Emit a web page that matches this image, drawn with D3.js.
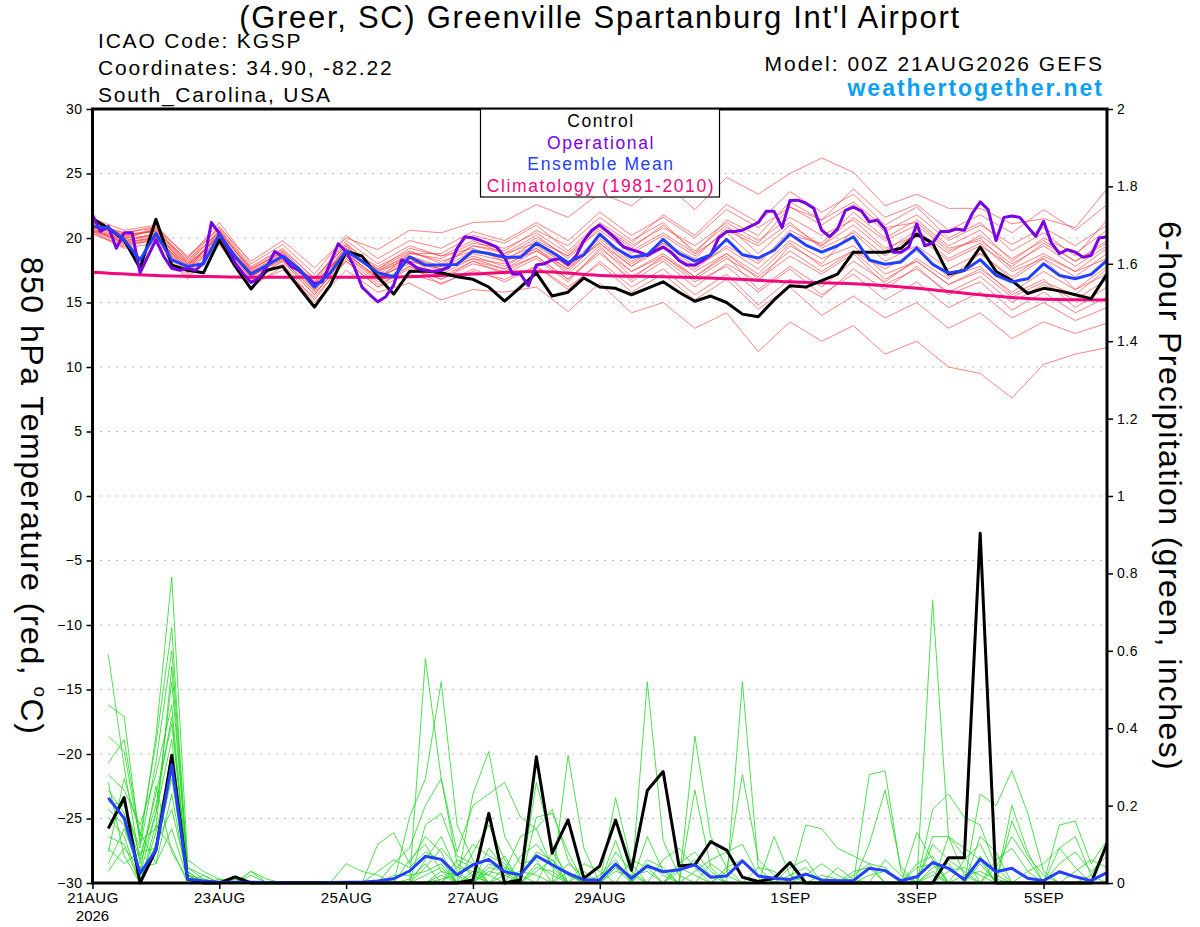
<!DOCTYPE html>
<html>
<head>
<meta charset="utf-8">
<script src="https://cdn.jsdelivr.net/npm/d3@7"></script>
<style>
body { margin: 0; background: #fff; }
svg { display: block; }
text { font-family: "Liberation Sans", Arial, sans-serif; }
</style>
</head>
<body>
<div id="chart"></div>
<script>
// ---- data ----
// time axis: 00Z 21AUG2026 .. 00Z 06SEP2026
const runStart = Date.UTC(2026, 7, 21);
const tickDates = [Date.UTC(2026,7,21), Date.UTC(2026,7,23), Date.UTC(2026,7,25), Date.UTC(2026,7,27),
                   Date.UTC(2026,7,29), Date.UTC(2026,8,1), Date.UTC(2026,8,3), Date.UTC(2026,8,5)];
const tickLabels = ["21AUG", "23AUG", "25AUG", "27AUG", "29AUG", "1SEP", "3SEP", "5SEP"];
const tempTicks = [-30, -25, -20, -15, -10, -5, 0, 5, 10, 15, 20, 25, 30];
const precipTicks = [0, 0.2, 0.4, 0.6, 0.8, 1, 1.2, 1.4, 1.6, 1.8, 2];

// 850 hPa temperature, control run, every 6 h from 00Z
const controlTemp = [21.5,20.75,19.85,17.65,21.45,17.9,17.5,17.3,19.85,17.8,16.05,17.5,17.8,16.2,14.65,16.35,
  18.95,18.6,17.0,15.65,17.4,17.45,17.3,17.0,16.8,16.2,15.1,16.2,17.3,15.5,15.8,16.9,
  16.2,16.1,15.6,16.1,16.6,15.8,15.1,15.5,15.0,14.1,13.9,15.2,16.3,16.2,16.7,17.2,
  18.9,18.9,18.9,19.2,20.3,19.6,17.2,17.5,19.3,17.4,16.7,15.7,16.1,15.9,15.6,15.3,17.2];

// operational run, every 3 h
const operTemp = [21.8,20.5,20.9,19.2,20.4,20.4,17.3,18.6,19.85,18.55,17.65,17.5,17.65,17.5,18.05,21.2,
  20.35,19.3,18.05,17.25,16.55,16.9,17.8,18.95,18.55,17.8,17.5,17.0,16.45,16.6,18.05,19.55,
  18.95,17.8,16.2,15.6,15.05,15.45,16.35,18.3,18.1,17.65,17.5,17.4,17.5,17.75,19.2,20.1,
  20.0,19.8,19.56,19.3,18.5,17.2,17.2,16.3,17.9,18.0,18.3,18.4,17.95,18.6,19.8,20.6,
  21.0,20.5,19.95,19.3,19.1,18.9,18.65,19.0,19.3,18.9,18.26,17.9,17.9,18.26,18.7,20.0,
  20.5,20.5,20.6,20.9,21.2,22.07,22.07,20.8,22.9,22.93,22.7,22.3,20.6,20.1,20.7,22.15,
  22.4,22.1,21.25,21.4,20.7,18.9,18.9,19.3,21.1,19.4,19.6,20.5,20.5,20.7,20.6,21.9,
  22.8,22.2,19.8,21.6,21.7,21.6,20.86,20.13,21.3,19.6,18.8,19.1,18.9,18.5,18.66,20.0,20.1];

// ensemble mean, every 6 h
const meanTemp = [20.9,20.8,19.85,18.3,20.35,18.3,17.8,18.0,20.3,18.55,17.2,17.9,18.6,17.65,16.2,17.3,
  19.0,18.2,17.3,17.0,18.55,17.9,17.9,17.95,19.0,18.8,18.5,18.5,19.6,18.9,18.1,18.7,
  20.3,19.2,18.5,18.7,19.9,18.8,18.2,18.7,19.9,18.7,18.45,19.05,20.3,19.45,18.9,19.4,
  20.1,18.3,17.96,18.14,19.23,17.96,17.28,17.49,18.32,17.1,16.6,16.84,18.0,17.1,16.84,17.18,18.27];

// 1981-2010 climatology, daily at 00Z
const climTemp = [17.35,17.1,17.0,16.95,16.95,17.0,17.2,17.4,17.1,17.0,16.85,16.6,16.45,16.1,15.6,15.25,15.2];

// ensemble members, every 12 h
const tempMembers = [
  [21.2,20.4,20.8,18.6,20.8,18.2,19.8,17.7,20.0,19.1,20.6,20.4,21.2,21.3,22.6,21.6,23.5,22.5,24.4,22.2,24.7,23.4,25.0,26.2,25.1,22.5,23.4,22.3,22.3,21.1,21.5,20.8,23.8],
  [20.6,19.5,19.8,17.0,19.5,16.2,17.8,15.0,17.5,15.8,16.5,15.2,16.0,15.8,16.2,14.3,16.5,14.2,15.0,13.0,14.2,11.2,13.5,12.0,13.2,11.0,12.0,10.0,9.5,7.6,10.2,11.0,11.5],
  [20.4,19.2,19.6,16.8,19.6,16.5,17.5,15.4,18.2,16.2,17.2,16.5,17.4,16.8,17.8,16.2,18.0,15.8,17.2,15.2,16.8,14.5,16.2,14.0,15.5,13.8,15.0,13.0,14.2,12.2,13.5,12.6,13.4],
  [21.5,20.6,21.0,18.4,21.2,18.0,19.5,17.2,20.2,18.4,19.8,19.2,20.5,19.8,21.2,19.8,22.0,20.2,21.6,20.0,22.2,20.8,22.4,21.0,22.6,20.5,21.8,19.8,21.0,19.5,20.8,19.4,21.0],
  [20.7,19.6,20.1,17.4,20.6,17.6,18.9,16.0,19.4,17.0,18.0,17.2,18.4,18.0,19.0,17.6,19.6,17.8,19.2,17.4,18.8,16.8,18.6,17.2,18.8,16.4,17.6,15.8,17.0,15.0,16.4,15.2,16.8],
  [21.0,20.2,20.6,18.0,20.0,16.8,18.2,15.6,18.6,16.8,18.8,18.4,19.6,19.2,20.4,18.8,21.0,19.4,20.8,19.4,21.2,19.8,21.6,20.2,21.4,19.2,20.2,18.2,19.4,17.8,19.6,18.2,19.8],
  [20.5,19.7,20.0,17.2,19.8,16.6,18.0,15.2,18.4,16.4,17.6,16.8,18.0,17.4,18.6,16.8,19.0,16.6,18.2,16.2,18.0,16.6,19.4,18.0,20.6,18.6,20.4,18.4,19.6,17.4,18.4,16.0,17.2],
  [21.3,20.0,20.8,18.2,20.9,17.8,19.2,16.8,19.8,18.0,19.4,18.6,19.2,18.2,19.2,17.2,19.4,17.0,18.4,16.6,17.8,15.8,17.6,15.6,17.2,15.2,16.6,14.6,15.8,13.8,15.0,13.6,14.6],
  [20.8,20.3,20.5,17.6,20.4,17.0,18.5,16.4,19.2,17.8,19.0,18.0,19.4,19.0,20.6,19.4,21.6,19.8,21.2,18.8,20.4,18.2,20.2,19.6,22.0,20.0,21.4,19.4,20.6,18.2,20.0,18.8,20.6],
  [21.1,19.8,20.2,17.9,20.1,17.4,18.8,16.6,18.8,16.9,18.2,17.6,18.6,17.8,19.2,17.6,20.0,18.0,19.6,17.8,19.2,17.6,19.8,18.4,19.4,17.2,18.2,16.4,17.6,15.8,17.4,16.0,17.8],
  [20.3,19.4,20.0,17.6,20.0,17.0,18.4,16.8,19.6,17.4,18.8,18.8,20.2,19.6,21.0,19.0,21.2,19.6,21.8,20.2,22.6,21.2,23.6,22.0,23.4,21.0,22.4,20.0,21.2,19.0,20.4,18.6,21.4],
  [21.6,20.1,20.6,18.0,20.6,17.4,18.4,15.8,18.2,16.2,17.8,16.8,18.2,17.2,18.4,16.6,19.2,17.4,18.8,17.0,18.6,16.0,17.8,16.2,18.2,16.6,18.4,16.8,18.8,17.0,18.6,17.4,19.2],
  [20.9,19.8,20.3,17.7,20.2,16.9,18.7,16.2,19.2,17.4,18.4,17.4,18.8,18.2,19.8,18.6,20.6,18.8,20.2,18.6,20.6,19.4,21.2,19.2,20.4,18.2,19.4,17.6,18.8,16.8,18.4,17.0,18.8],
  [20.6,19.9,20.7,18.1,20.5,17.5,19.0,16.6,19.5,17.6,18.9,18.2,19.0,18.4,19.4,17.8,20.2,18.2,19.4,17.6,19.4,18.0,20.6,19.4,21.0,19.0,20.6,18.8,20.2,18.4,19.8,18.2,19.6],
  [21.2,20.0,20.2,17.5,19.8,17.1,18.3,15.9,18.7,17.0,18.4,17.0,18.2,17.6,19.0,17.4,19.8,17.8,19.6,18.4,20.8,19.6,22.4,21.4,23.8,21.6,22.6,20.6,21.8,20.4,22.2,20.6,22.6],
  [20.7,19.6,20.0,17.3,20.0,16.8,18.2,15.6,18.6,16.6,17.8,16.4,17.6,16.6,17.8,16.0,18.2,16.2,17.6,15.6,17.2,14.8,16.8,15.4,17.6,16.0,17.8,15.6,16.6,14.4,15.8,14.2,15.4],
  [21.0,20.4,20.9,18.5,20.7,17.7,19.1,16.9,19.4,17.2,18.6,17.8,19.4,18.8,20.2,18.4,20.8,19.0,20.4,18.8,21.4,20.2,22.8,21.4,22.8,20.8,21.2,19.2,19.8,18.0,19.4,17.8,19.4],
  [20.5,19.3,19.9,17.8,20.3,17.3,18.6,16.4,19.0,17.6,19.2,18.6,19.8,18.8,19.6,17.8,19.6,17.4,18.6,16.8,18.4,17.0,19.0,17.4,19.0,17.6,19.0,17.0,17.8,15.6,16.8,14.6,16.2],
  [21.4,20.2,20.5,18.3,20.4,17.6,18.9,16.5,18.9,16.8,18.2,17.6,19.0,18.6,20.0,18.6,21.0,19.2,21.0,19.0,21.0,18.8,21.0,19.4,21.6,19.8,21.0,19.0,20.0,17.6,18.8,17.4,18.4],
  [20.8,19.7,20.4,17.9,20.2,17.2,18.6,16.0,19.1,17.5,18.6,17.6,18.4,17.6,18.6,16.8,18.8,16.8,18.6,17.0,18.8,17.2,19.6,17.8,19.0,16.8,18.2,16.4,17.4,15.4,16.6,15.6,17.6]
];

// 6-hour precipitation (inches), every 6 h from 06Z 21AUG
const controlPrecip = [.141,.221,0,.085,.33,.01,0,0, .016,0,0,0,0,0,0,0, 0,0,0,0,0,0,0,.008,
  .18,0,.008,.326,.077,.163,.012,.044, .163,.033,.239,.288,.044,.047,.107,.085,
  .015,.004,.012,.053,0,0,0,0, 0,0,0,0,0,.065,.065,.904, 0,0,0,0,0,0,0,.102];

const meanPrecip = [.22,.167,.025,.085,.305,.01,.005,.002, .002,.002,.001,.001,.001,.001,.001,.002,
  .002,.005,.011,.031,.069,.061,.021,.047, .061,.029,.021,.07,.047,.025,.008,.008,
  .049,.012,.044,.029,.034,.047,.015,.018, .057,.018,.012,.009,.023,.008,.006,.006,
  .038,.032,.006,.016,.053,.038,.009,.062, .029,.038,.012,.006,.029,.016,.006,.027];

const precipMembers = [
  [.59,.30,.05,.18,.52,.04,.01,0, 0,0,0,0,0,0,0,0, 0,0,0,0,.58,.27,.05,.02, 0,0,0,0,0,0,0,0, 0,0,.52,.11,.02,0,0,0, 0,0,0,0,0,0,0,0, 0,0,0,0,.03,0,0,.05, 0,0,0,0,0,0,0,0],
  [.46,.43,.10,.38,.79,.06,.03,.01, 0,0,0,0,0,0,0,0, 0,0,0,.17,.27,.52,.15,.06, 0,0,0,0,0,.33,.09,0, 0,0,0,0,0,0,0,0, .52,.04,0,0,0,0,0,0, 0,0,0,0,.73,.12,.02,0, 0,0,0,0,0,0,0,0],
  [.31,.37,.12,.36,.66,.02,0,0, 0,0,0,0,0,0,0,0, 0,.10,.13,.05,.12,.08,0,.23, .34,.12,.05,.06,0,0,0,0, 0,0,0,0,0,.38,.12,.04, 0,0,0,0,0,0,0,0, .28,.29,.03,0,0,0,0,0, 0,0,0,0,0,0,0,0],
  [.28,.24,.15,.28,.46,.01,0,0, 0,.03,0,0,0,0,0,0, 0,0,.05,.09,.20,.27,.08,.20, .23,.26,.17,.14,.19,.06,0,0, 0,0,0,0,0,0,0,0, 0,0,0,0,.15,.14,.09,.07, .05,0,0,0,0,0,0,0, 0,0,0,0,0,0,0,0],
  [.24,.18,.06,.23,.41,.03,0,0, .01,0,0,0,0,0,0,0, 0,0,0,0,0,0,.04,.10, .07,.05,0,.26,.10,0,0,0, .22,.05,0,0,0,.24,.04,0, 0,0,0,0,0,0,0,0, 0,0,0,0,0,0,0,.23, .20,.29,.18,.03,0,0,0,0],
  [.19,.15,.02,.18,.37,.01,0,0, 0,0,0,0,0,0,0,.05, .03,.02,0,0,.06,.12,.03,0, .09,.04,0,.17,.18,.08,0,0, .11,0,.12,.03,0,0,0,0, 0,0,.12,.02,0,0,0,0, .10,.24,.04,0,.19,.23,.17,.15, .04,0,0,0,0,0,0,0],
  [.12,.10,0,.13,.32,.02,.01,0, 0,0,0,0,0,0,0,0, 0,.03,.06,.04,.08,.06,0,0, .05,.03,.12,.14,.04,0,0,.02, .06,0,0,0,.05,.08,.03,0, 0,0,0,0,0,0,0,0, 0,0,0,.13,.06,0,0,0, 0,.20,.08,0,.15,.16,.05,.11],
  [.09,.05,.08,.09,.27,.01,0,0, 0,0,0,0,0,0,0,0, 0,0,0,0,.04,.09,.04,.03, 0,0,.02,0,.08,.02,0,0, 0,.06,.04,0,0,0,0,.03, .28,.06,.02,0,0,0,0,0, 0,0,0,0,0,.12,.09,.06, 0,0,0,0,.05,.08,.03,.07],
  [.03,.09,.04,.05,.23,0,0,.01, 0,.02,0,0,0,0,0,0, 0,0,0,0,0,.03,.02,.05, .02,.07,0,.04,.03,0,.05,.03, 0,0,0,0,.04,.02,0,0, 0,0,0,0,.02,.05,.02,0, 0,0,0,0,0,0,.02,.03, .01,0,0,0,0,0,0,0],
  [.17,.12,0,.10,.19,.02,0,0, 0,0,0,0,0,0,0,0, 0,0,.02,.02,.03,.05,0,.08, .15,.06,0,0,0,.03,0,0, .08,.03,0,.06,.09,.04,0,0, 0,0,0,.04,.06,0,0,.03, .04,0,0,.05,.07,0,0,.12, .08,0,0,0,.09,.04,0,0],
  [.21,.20,.09,.31,.60,.04,.02,0, 0,0,0,0,0,0,0,0, 0,0,0,.01,.05,0,.06,.04, 0,0,.07,.10,.05,0,0,0, 0,0,.06,.04,0,0,.05,.02, 0,0,0,0,0,0,.04,.01, 0,0,0,0,.04,.05,0,0, 0,.16,.07,.02,0,0,0,0],
  [.08,.27,.13,.05,.14,.01,0,0, 0,0,0,0,0,0,0,0, 0,0,0,0,0,.02,0,0, .04,.03,0,.05,.02,0,0,0, .03,.02,0,0,0,0,0,0, 0,.04,.03,0,0,0,0,0, 0,.06,.02,0,.10,.06,.03,0, .04,.12,.06,0,0,0,.02,.09],
  [.14,.21,.07,.20,.43,.02,0,0, 0,0,0,0,0,0,0,0, 0,0,0,0,.02,.04,0,.02, 0,.02,.03,.02,0,.05,.02,0, 0,0,0,0,0,.03,.06,.08, .10,.02,0,0,0,0,0,0, .02,.03,0,0,.02,0,.06,.10, .02,0,0,0,0,0,0,0],
  [.26,.07,0,.15,.09,0,.02,0, 0,.03,.01,0,0,0,0,0, 0,0,0,.06,.10,.03,0,.03, .02,0,0,0,0,0,0,0, .04,.02,.03,0,0,0,0,0, 0,0,0,0,0,.02,.01,0, 0,0,0,.04,.05,0,0,.07, 0,0,.03,.05,.09,.12,.02,0],
  [.05,.14,.03,.25,.08,.01,0,0, 0,0,0,0,0,0,0,0, 0,0,0,0,0,.01,.02,0, .03,.02,0,.03,.06,.02,0,0, 0,0,0,0,.03,.06,.02,0, 0,0,0,.02,.04,0,0,0, 0,0,0,0,0,.03,.04,.02, 0,0,0,0,0,.03,.06,.04],
  [.38,.34,.11,.14,.56,.03,0,0, .01,0,0,0,0,0,0,0, 0,0,0,0,.15,.18,.07,.05, 0,.04,.02,.08,.06,0,.03,0, .04,0,.05,.02,0,0,0,.04, .06,.02,0,0,0,0,0,.02, .05,.04,0,0,.12,.12,.07,0, .06,.09,.03,0,0,0,0,.03]
];

// ---- chart ----
const width = 1200;
const height = 927;
const margin = { top: 109, right: 93, bottom: 44, left: 92.5 };
const plotRight = width - margin.right;
const plotBottom = height - margin.bottom;
const HOUR = 3600 * 1000;

const svg = d3.select("#chart")
    .append("svg")
    .attr("width", width)
    .attr("height", height);

// scales
const x = d3.scaleUtc()
    .domain([new Date(runStart), new Date(runStart + 384 * HOUR)])
    .range([margin.left, plotRight]);
const yT = d3.scaleLinear().domain([-30, 30]).range([plotBottom, margin.top]);
const yP = d3.scaleLinear().domain([0, 2]).range([plotBottom, margin.top]);

// line generator for a series with a given step (hours) and first valid hour
const tempLine = (step, first) => d3.line()
    .x((d, i) => x(new Date(runStart + (first + i * step) * HOUR)))
    .y(d => yT(d));
const precipLine = (step, first) => d3.line()
    .x((d, i) => x(new Date(runStart + (first + i * step) * HOUR)))
    .y(d => yP(d));

// dotted gridlines
svg.append("g")
    .selectAll("line")
    .data(tempTicks.filter(t => t > -30 && t < 30))
    .join("line")
    .attr("x1", margin.left).attr("x2", plotRight)
    .attr("y1", d => yT(d)).attr("y2", d => yT(d))
    .attr("stroke", "#a8a8a8")
    .attr("stroke-width", 1.2)
    .attr("stroke-dasharray", "1.5,6.5");

// ensemble members
svg.append("g")
    .selectAll("path")
    .data(tempMembers)
    .join("path")
    .attr("d", tempLine(12, 0))
    .attr("fill", "none")
    .attr("stroke", "#ff4646")
    .attr("stroke-opacity", 0.85)
    .attr("stroke-width", 0.8);

svg.append("g")
    .selectAll("path")
    .data(precipMembers)
    .join("path")
    .attr("d", precipLine(6, 6))
    .attr("fill", "none")
    .attr("stroke", "#20d820")
    .attr("stroke-width", 0.8);

// climatology
svg.append("path")
    .datum(climTemp)
    .attr("d", tempLine(24, 0).curve(d3.curveMonotoneX))
    .attr("fill", "none")
    .attr("stroke", "#f0087c")
    .attr("stroke-width", 3);

// control, operational, mean
svg.append("path").datum(controlTemp)
    .attr("d", tempLine(6, 0))
    .attr("fill", "none").attr("stroke", "#000").attr("stroke-width", 3)
    .attr("stroke-linejoin", "round");
svg.append("path").datum(controlPrecip)
    .attr("d", precipLine(6, 6))
    .attr("fill", "none").attr("stroke", "#000").attr("stroke-width", 3)
    .attr("stroke-linejoin", "round");
svg.append("path").datum(operTemp)
    .attr("d", tempLine(3, 0))
    .attr("fill", "none").attr("stroke", "#7a00e6").attr("stroke-width", 3)
    .attr("stroke-linejoin", "round");
svg.append("path").datum(meanTemp)
    .attr("d", tempLine(6, 0))
    .attr("fill", "none").attr("stroke", "#2440ff").attr("stroke-width", 3)
    .attr("stroke-linejoin", "round");
svg.append("path").datum(meanPrecip)
    .attr("d", precipLine(6, 6))
    .attr("fill", "none").attr("stroke", "#2440ff").attr("stroke-width", 3)
    .attr("stroke-linejoin", "round");

// frame
svg.append("rect")
    .attr("x", margin.left).attr("y", margin.top)
    .attr("width", plotRight - margin.left)
    .attr("height", plotBottom - margin.top)
    .attr("fill", "none").attr("stroke", "#000").attr("stroke-width", 3);

// axes
const styleAxis = g => {
    g.select(".domain").remove();
    g.attr("font-family", "Liberation Sans, Arial, sans-serif")
     .attr("font-size", 14);
    g.selectAll(".tick line").attr("stroke-width", 1.5);
    g.selectAll(".tick text").attr("fill", "#000").attr("letter-spacing", 0.5);
};
svg.append("g")
    .attr("transform", "translate(" + margin.left + ",0)")
    .call(d3.axisLeft(yT).tickValues(tempTicks).tickSize(6).tickPadding(4))
    .call(styleAxis);
svg.append("g")
    .attr("transform", "translate(" + plotRight + ",0)")
    .call(d3.axisRight(yP).tickValues(precipTicks).tickSize(6).tickPadding(4)
        .tickFormat(d3.format(".1~f")))
    .call(styleAxis);
const gx = svg.append("g")
    .attr("transform", "translate(0," + plotBottom + ")")
    .call(d3.axisBottom(x).tickValues(tickDates.map(d => new Date(d))).tickSize(6).tickPadding(3)
        .tickFormat((d, i) => tickLabels[i]))
    .call(styleAxis);
gx.attr("font-size", 15);
svg.append("text")
    .attr("x", x(new Date(tickDates[0]))).attr("y", 921)
    .attr("text-anchor", "middle").attr("font-size", 15)
    .text("2026");

// axis titles (both read top to bottom)
const leftTitle = svg.append("text")
    .attr("transform", "translate(21,496) rotate(90)")
    .attr("text-anchor", "middle")
    .attr("font-size", 32)
    .attr("letter-spacing", 1.5);
leftTitle.append("tspan").text("850 hPa Temperature (red, ");
leftTitle.append("tspan").attr("font-size", 19).attr("dy", -13).text("o");
leftTitle.append("tspan").attr("dy", 13).text("C)");

svg.append("text")
    .attr("transform", "translate(1159,496) rotate(90)")
    .attr("text-anchor", "middle")
    .attr("font-size", 32)
    .attr("letter-spacing", 1.4)
    .text("6-hour Precipitation (green, inches)");

// header
svg.append("text").attr("x", 600).attr("y", 28)
    .attr("text-anchor", "middle").attr("font-size", 31)
    .attr("letter-spacing", 1.7)
    .text("(Greer, SC) Greenville Spartanburg Int'l Airport");
const info = ["ICAO Code: KGSP", "Coordinates: 34.90, -82.22", "South_Carolina, USA"];
svg.append("g").selectAll("text").data(info).join("text")
    .attr("x", 98).attr("y", (d, i) => 48 + i * 27)
    .attr("font-size", 21)
    .attr("letter-spacing", 1.8)
    .text(d => d);
svg.append("text").attr("x", 1104).attr("y", 71)
    .attr("text-anchor", "end").attr("font-size", 21)
    .attr("letter-spacing", 2)
    .text("Model: 00Z 21AUG2026 GEFS");
svg.append("text").attr("x", 1104).attr("y", 96)
    .attr("text-anchor", "end").attr("font-size", 23).attr("font-weight", "bold")
    .attr("letter-spacing", 2)
    .attr("fill", "#0aa0f5")
    .text("weathertogether.net");

// legend
const legendItems = [
    { label: "Control", color: "#000" },
    { label: "Operational", color: "#7a00e6" },
    { label: "Ensemble Mean", color: "#2440ff" },
    { label: "Climatology (1981-2010)", color: "#f0087c" }
];
svg.append("rect")
    .attr("x", 480.5).attr("y", margin.top)
    .attr("width", 239).attr("height", 88)
    .attr("fill", "#fff").attr("stroke", "#000").attr("stroke-width", 1.2);
svg.append("g").selectAll("text").data(legendItems).join("text")
    .attr("x", 601).attr("y", (d, i) => 127 + i * 21.5)
    .attr("text-anchor", "middle").attr("font-size", 17.5)
    .attr("letter-spacing", 1.6)
    .attr("fill", d => d.color)
    .text(d => d.label);
</script>
</body>
</html>
